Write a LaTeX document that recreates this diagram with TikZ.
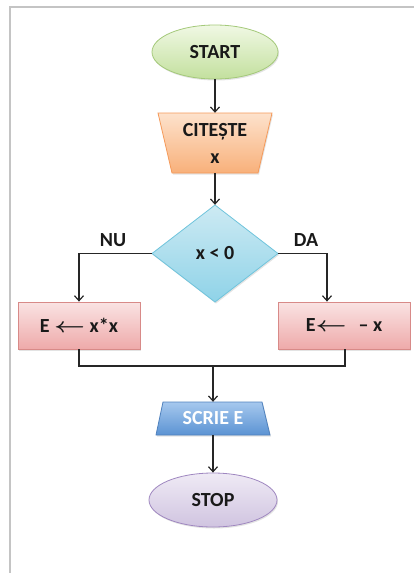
\documentclass[tikz,border=0pt]{standalone}
\usepackage{fontspec}
\setmainfont{Carlito}
\usepackage{graphicx}
\usetikzlibrary{arrows.meta,shapes.geometric,shadows}
\definecolor{gT}{HTML}{F0F8E4}\definecolor{gB}{HTML}{C3E09E}\definecolor{gD}{HTML}{A4C97A}
\definecolor{oT}{HTML}{FDE2CC}\definecolor{oB}{HTML}{F8B07A}\definecolor{oD}{HTML}{F59A5A}
\definecolor{bT}{HTML}{CDEAF3}\definecolor{bB}{HTML}{8FD3E8}\definecolor{bD}{HTML}{6FC4DC}
\definecolor{pT}{HTML}{FAE3E3}\definecolor{pB}{HTML}{EEAAAA}\definecolor{pD}{HTML}{D88A88}
\definecolor{sT}{HTML}{A6C8EE}\definecolor{sB}{HTML}{5B93D3}\definecolor{sD}{HTML}{4F81BD}
\definecolor{vT}{HTML}{EFEAF5}\definecolor{vB}{HTML}{D0C4E0}\definecolor{vD}{HTML}{9F87C0}
\definecolor{frame}{HTML}{C4C4C4}
\newcommand{\larr}{\scalebox{1.3}[1]{\boldmath$\leftarrow$}}
\begin{document}
\begin{tikzpicture}[x=1pt,y=-1pt,
  txt/.style={font=\fontsize{20}{27}\selectfont\bfseries, text=black!90},
  conn/.style={draw=black!85, line width=1.2pt},
  arr/.style={conn, -{Straight Barb[length=5pt,width=9pt,line width=1.2pt]}},
  shd/.style={drop shadow={opacity=0.22,shadow xshift=1pt,shadow yshift=-1.5pt}},
  holder/.style={txt, rectangle, inner sep=0pt, align=center},
  term/.style={txt, ellipse, inner sep=0pt, line width=0.8pt, shd},
  procbox/.style={txt, rectangle, inner sep=0pt, line width=0.8pt, top color=pT, bottom color=pB, draw=pD, shd, minimum height=47pt}
]
\useasboundingbox (0,0) rectangle (414,573);
\draw[frame, line width=2pt] (10,573) -- (10,7) -- (414,7);

% shapes drawn directly
\path[shd, top color=oT, bottom color=oB, draw=oD, line width=0.8pt]
  (158,113) -- (272,113) -- (258,173) -- (172,173) -- cycle;
\path[shd, top color=bT, bottom color=bB, draw=bD, line width=0.8pt]
  (215,205) -- (278,253.5) -- (215,302) -- (152,253.5) -- cycle;
\path[shd, top color=sT, bottom color=sB, draw=sD, line width=0.8pt]
  (163,402) -- (262,402) -- (270,435) -- (156,435) -- cycle;

% nodes
\node[term, minimum width=126pt, minimum height=54pt, top color=gT, bottom color=gB, draw=gD] (start) at (215,52) {START};
\node[holder, minimum width=114pt, minimum height=60pt] (cit) at (215,143) {CITEȘTE\\x};
\node[holder, minimum width=126pt, minimum height=97pt] (dia) at (215,253.5) {x < 0};
\node[procbox, minimum width=122pt] (lbox) at (79,325.5) {E \larr{} x*x};
\node[procbox, minimum width=132pt] (rbox) at (344,325.5) {E\larr{}\hspace{0.6em}– x};
\node[holder, minimum width=114pt, minimum height=33pt, text=white] (scr) at (213,418.5) {SCRIE E};
\node[term, minimum width=128pt, minimum height=54pt, top color=vT, bottom color=vB, draw=vD] (stop) at (213,500) {STOP};
\node[txt] (nu) at (113,240) {NU};
\node[txt] (da) at (306,240) {DA};
\coordinate (m) at (213,366);

% connectors
\draw[arr] (start.south) -- (cit.north);
\draw[arr] (cit.south) -- (dia.north);
\draw[arr] (dia.west) -| (lbox.north);
\draw[arr] (dia.east) -| ([xshift=-17pt]rbox.north);
\draw[conn] (lbox.south) -- (lbox.south |- m) -- ([xshift=1pt]rbox.south |- m) -- ([xshift=1pt]rbox.south);
\draw[arr] (m) -- (scr.north);
\draw[arr] (scr.south) -- (stop.north);
\end{tikzpicture}
\end{document}
